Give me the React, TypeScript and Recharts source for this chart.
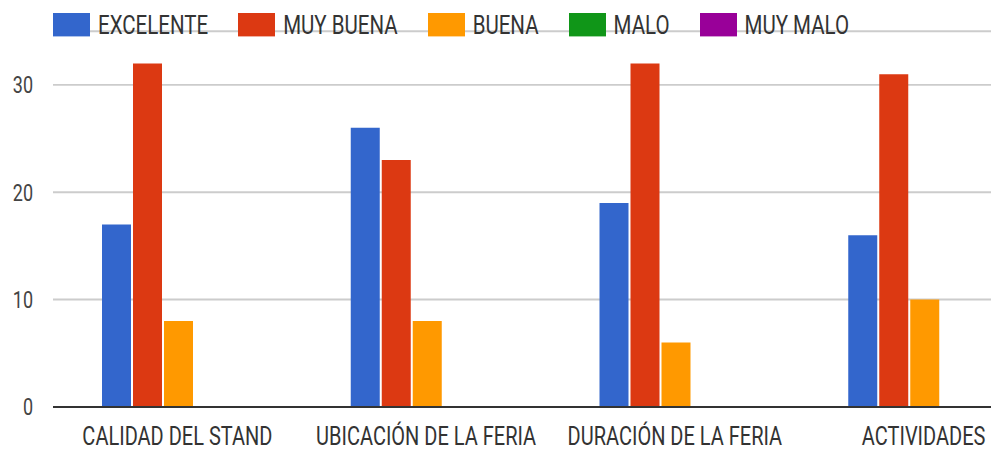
import { BarChart, Bar, XAxis, YAxis, CartesianGrid } from 'recharts'

const CATEGORIAS = ['CALIDAD DEL STAND', 'UBICACIÓN DE LA FERIA', 'DURACIÓN DE LA FERIA', 'ACTIVIDADES']
const EXCELENTE = [17, 26, 19, 16]
const MUY_BUENA = [32, 23, 32, 31]
const BUENA = [8, 8, 6, 10]
const MALO = [0, 0, 0, 0]
const MUY_MALO = [0, 0, 0, 0]
const Y_TICKS = [0, 10, 20, 30]

const SERIES = [
  { key: 'excelente', nombre: 'EXCELENTE', color: '#3366cc', valores: EXCELENTE },
  { key: 'muyBuena', nombre: 'MUY BUENA', color: '#dc3912', valores: MUY_BUENA },
  { key: 'buena', nombre: 'BUENA', color: '#ff9900', valores: BUENA },
  { key: 'malo', nombre: 'MALO', color: '#109618', valores: MALO },
  { key: 'muyMalo', nombre: 'MUY MALO', color: '#990099', valores: MUY_MALO },
]

const data = CATEGORIAS.map((categoria, i) => {
  const row: Record<string, string | number> = { categoria }
  SERIES.forEach((s) => { row[s.key] = s.valores[i] })
  return row
})

// the reference is stretched vertically, so draw flat and scale up
const SCALE_Y = 1.3
const CHART_W = 1048
const CHART_H = 348
const FONT = 'Roboto, Arial, sans-serif'

function Leyenda() {
  return (
    <div style={{ position: 'absolute', top: 10, left: 53, zIndex: 2, display: 'flex', alignItems: 'center', height: 18, fontFamily: FONT, fontSize: 20.5, color: '#333', lineHeight: 1 }}>
      {SERIES.map((s) => (
        <div key={s.key} style={{ display: 'flex', alignItems: 'center', marginRight: 30 }}>
          <div style={{ width: 37, height: 18, background: s.color, marginRight: 8 }} />
          <span>{s.nombre}</span>
        </div>
      ))}
    </div>
  )
}

export default function App() {
  return (
    <div style={{ position: 'absolute', top: 0, left: 0, width: 991, height: 452, overflow: 'hidden', background: '#fff' }}>
      <div style={{ position: 'relative', width: CHART_W, height: CHART_H, transform: `scaleY(${SCALE_Y})`, transformOrigin: '0 0' }}>
        <BarChart
          width={CHART_W}
          height={CHART_H}
          data={data}
          margin={{ top: 24, right: 0, left: 0, bottom: 0 }}
          barCategoryGap={49}
          barGap={2}
          style={{ fontFamily: FONT }}
        >
          <CartesianGrid vertical={false} stroke="#cccccc" strokeWidth={1.5} />
          <XAxis
            dataKey="categoria"
            interval={0}
            height={35}
            tickLine={false}
            tickSize={0}
            tickMargin={15}
            axisLine={{ stroke: '#333', strokeWidth: 1.5 }}
            tick={{ fill: '#333', fontSize: 20, fontFamily: FONT }}
          />
          <YAxis
            width={53}
            domain={[0, 35]}
            ticks={Y_TICKS}
            axisLine={false}
            tickLine={false}
            tickSize={0}
            tickMargin={20}
            tick={{ fill: '#444', fontSize: 18, fontFamily: FONT }}
          />
          {SERIES.map((s) => (
            <Bar key={s.key} dataKey={s.key} name={s.nombre} fill={s.color} isAnimationActive={false} />
          ))}
        </BarChart>
        <Leyenda />
      </div>
    </div>
  )
}
